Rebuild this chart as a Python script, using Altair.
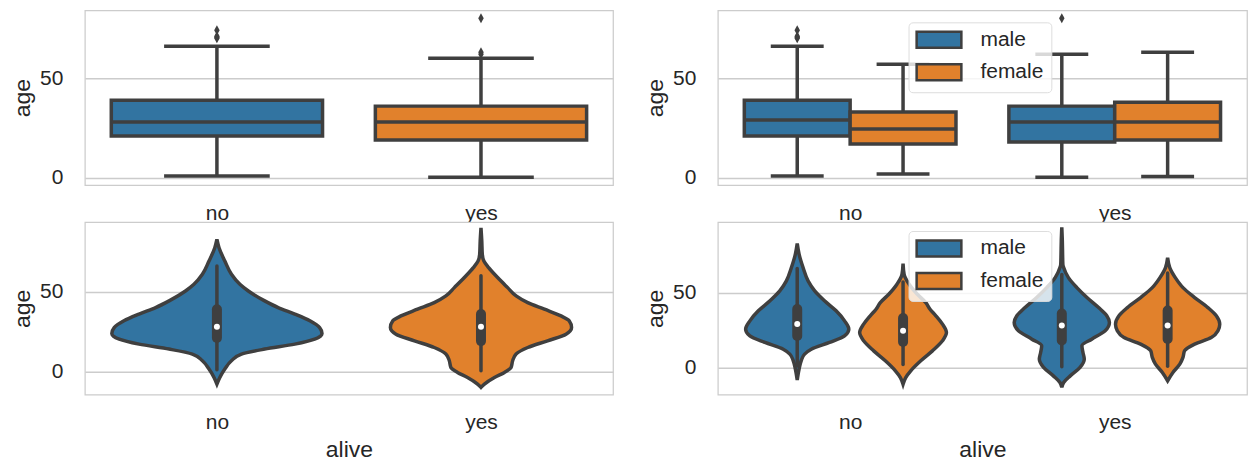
import altair as alt
import pandas as pd

FONT = "Liberation Sans"
TEXT = "#262626"
GRID = "#cccccc"
LINE = "#3f3f3f"

groups = ["no", "yes"]
sexes = ["male", "female"]
palette = ["#3274a1", "#e1812c"]

# ---- box statistics: age by alive
all_q1 = [21.0, 19.0]
all_med = [28.0, 28.0]
all_q3 = [39.0, 36.0]
all_lo = [1.0, 0.42]
all_hi = [66.0, 60.0]
out_all_group = ["no", "no", "no", "no", "yes", "yes", "yes"]
out_all_age = [70.0, 70.5, 71.0, 74.0, 62.0, 63.0, 80.0]

# ---- box statistics: age by alive and sex
sex_group = ["no", "no", "yes", "yes"]
sex_key = ["male", "female", "male", "female"]
sex_q1 = [21.0, 17.0, 18.0, 19.0]
sex_med = [29.0, 24.5, 28.0, 28.0]
sex_q3 = [39.0, 33.0, 36.0, 38.0]
sex_lo = [1.0, 2.0, 0.42, 0.75]
sex_hi = [66.0, 57.0, 62.0, 63.0]
out_sex_group = ["no", "no", "no", "no", "yes"]
out_sex_key = ["male", "male", "male", "male", "male"]
out_sex_age = [70.0, 70.5, 71.0, 74.0, 80.0]

# ---- violin outlines (age, half width)
vio_all_no_age = [82.7, 77.5, 69.2, 60.9, 54.6, 50.4, 44.2, 40.0, 35.9, 31.7, 27.5, 23.8, 20.2, 17.1, 14.0, 10.9, 6.7, 1.5, -3.75, -7.9]
vio_all_no_w = [0, 0.008, 0.030, 0.055, 0.087, 0.119, 0.181, 0.232, 0.295, 0.352, 0.389, 0.398, 0.370, 0.295, 0.181, 0.093, 0.055, 0.030, 0.011, 0]
vio_all_yes_age = [90.0, 81.7, 73.4, 69.2, 65.0, 58.8, 52.5, 47.3, 43.1, 39.0, 34.8, 31.7, 27.5, 23.3, 19.2, 15.0, 10.9, 6.7, 2.5, -0.6, -3.75, -7.9, -10.0]
vio_all_yes_w = [0, 0.003, 0.005, 0.011, 0.029, 0.063, 0.101, 0.133, 0.177, 0.240, 0.303, 0.334, 0.343, 0.322, 0.252, 0.177, 0.133, 0.120, 0.114, 0.089, 0.051, 0.013, 0]
vio_m_no_age = [82.7, 75.6, 66.7, 57.8, 51.1, 44.5, 37.8, 31.1, 25.6, 21.1, 16.7, 12.2, 8.9, 4.5, -1.1, -8.4]
vio_m_no_w = [0, 0.007, 0.022, 0.041, 0.066, 0.103, 0.147, 0.179, 0.195, 0.179, 0.122, 0.053, 0.028, 0.015, 0.007, 0]
vio_f_no_age = [69.3, 62.2, 55.6, 48.9, 43.3, 38.9, 34.5, 28.9, 23.3, 17.8, 11.1, 4.5, -2.2, -6.7, -11.1]
vio_f_no_w = [0, 0.004, 0.023, 0.054, 0.086, 0.102, 0.124, 0.149, 0.164, 0.149, 0.111, 0.067, 0.029, 0.010, 0]
vio_m_yes_age = [93.5, 84.4, 75.6, 68.9, 66.7, 60.0, 53.3, 46.7, 40.0, 34.5, 30.0, 24.5, 18.9, 14.5, 10.0, 5.6, 0.0, -5.6, -10.0, -13.3]
vio_m_yes_w = [0, 0.002, 0.003, 0.004, 0.007, 0.025, 0.057, 0.095, 0.139, 0.170, 0.180, 0.164, 0.113, 0.076, 0.080, 0.085, 0.069, 0.032, 0.007, 0]
vio_f_yes_age = [73.3, 66.7, 60.0, 53.3, 46.7, 40.0, 34.5, 28.9, 24.5, 20.0, 15.6, 11.1, 6.7, 2.2, -3.3, -8.9]
vio_f_yes_w = [0, 0.008, 0.029, 0.058, 0.102, 0.152, 0.184, 0.197, 0.190, 0.165, 0.102, 0.064, 0.058, 0.046, 0.020, 0]

# ---- layout constants
BOX_WIDTH = 0.8
HUE_SHIFT = BOX_WIDTH / 4
LW = 3.5


def center(group, key=None):
    c = float(groups.index(group))
    if key is None:
        return c
    return c + (-HUE_SHIFT if key == sexes[0] else HUE_SHIFT)


def box_df(grp, keys, q1, med, q3, lo, hi, hue):
    half = BOX_WIDTH / 4 if hue else BOX_WIDTH / 2
    rows = []
    for i in range(len(grp)):
        c = center(grp[i], keys[i] if hue else None)
        rows.append(dict(key=keys[i], pos=c, xl=c - half, xr=c + half,
                         cl=c - half / 2, cr=c + half / 2,
                         q1=q1[i], med=med[i], q3=q3[i], lo=lo[i], hi=hi[i]))
    return pd.DataFrame(rows)


def vio_df(items):
    rows = []
    for vid, grp, key, ages, ws, hue in items:
        c = center(grp, key if hue else None)
        pts = sorted(zip(ages, ws))
        for a, w in pts:
            rows.append(dict(vid=vid, key=key, age=a, vl=c - w, vr=c + w))
    return pd.DataFrame(rows)


label_expr = "[" + ",".join("'%s'" % g for g in groups) + "][datum.value]"


def x_enc(field, title):
    return alt.X(field + ":Q",
                 scale=alt.Scale(domain=[-0.5, 1.5], nice=False, zero=False),
                 axis=alt.Axis(values=[0, 1], labelExpr=label_expr, title=title,
                               grid=False, labelPadding=17, labelAngle=0,
                               titlePadding=6))


def y_enc(field, dom):
    return alt.Y(field + ":Q",
                 scale=alt.Scale(domain=dom, nice=False, zero=False),
                 axis=alt.Axis(values=[0, 50], title="age", grid=True,
                               labelPadding=22, titlePadding=5))


def color_enc(domain, legend_y):
    if legend_y is None:
        return alt.Color("key:N", scale=alt.Scale(domain=domain, range=palette), legend=None)
    return alt.Color("key:N", scale=alt.Scale(domain=domain, range=palette),
                     legend=alt.Legend(orient="none", legendX=191, legendY=legend_y,
                                       title=None,
                                       symbolType="M-2.8,-1H2.8V1H-2.8Z",
                                       symbolSize=256, symbolStrokeColor=LINE,
                                       symbolStrokeWidth=2.5, symbolOpacity=1,
                                       symbolOffset=13,
                                       labelFont=FONT, labelFontSize=21,
                                       labelColor=TEXT, labelOffset=31,
                                       fillColor="rgba(255,255,255,0.8)",
                                       strokeColor="#dddddd", cornerRadius=4,
                                       padding=7, rowPadding=5.5))


def box_panel(df, outs, dom, xtitle, domain, legend_y, w, h):
    base = alt.Chart(df)
    upper = base.mark_rule(stroke=LINE, strokeWidth=LW).encode(
        x=x_enc("pos", xtitle), y=y_enc("q3", dom), y2="hi:Q")
    lower = base.mark_rule(stroke=LINE, strokeWidth=LW).encode(
        x=x_enc("pos", xtitle), y=y_enc("lo", dom), y2="q1:Q")
    cap_hi = base.mark_rule(stroke=LINE, strokeWidth=LW).encode(
        x=x_enc("cl", xtitle), x2="cr:Q", y=y_enc("hi", dom))
    cap_lo = base.mark_rule(stroke=LINE, strokeWidth=LW).encode(
        x=x_enc("cl", xtitle), x2="cr:Q", y=y_enc("lo", dom))
    box = base.mark_rect(stroke=LINE, strokeWidth=LW, opacity=1).encode(
        x=x_enc("xl", xtitle), x2="xr:Q", y=y_enc("q1", dom), y2="q3:Q",
        color=color_enc(domain, legend_y))
    med = base.mark_rule(stroke=LINE, strokeWidth=LW).encode(
        x=x_enc("xl", xtitle), x2="xr:Q", y=y_enc("med", dom))
    fl = alt.Chart(outs).mark_point(shape="M0,-1L0.55,0L0,1L-0.55,0Z", size=100,
                                    filled=True, color=LINE, opacity=1).encode(
        x=x_enc("pos", xtitle), y=y_enc("age", dom))
    return alt.layer(upper, lower, cap_hi, cap_lo, box, med, fl).properties(width=w, height=h)


def violin_panel(vdf, bdf, dom, xtitle, domain, legend_y, w, h):
    area = alt.Chart(vdf).mark_area(orient="horizontal", interpolate="monotone",
                                    stroke=LINE, strokeWidth=LW, opacity=1).encode(
        x=x_enc("vl", xtitle), x2="vr:Q", y=y_enc("age", dom),
        color=color_enc(domain, legend_y), detail="vid:N")
    base = alt.Chart(bdf)
    whisk = base.mark_rule(stroke=LINE, strokeWidth=3.5, strokeCap="round").encode(
        x=x_enc("pos", xtitle), y=y_enc("lo", dom), y2="hi:Q")
    iqr = base.mark_rule(stroke=LINE, strokeWidth=10, strokeCap="round").encode(
        x=x_enc("pos", xtitle), y=y_enc("q1", dom), y2="q3:Q")
    dot = base.mark_circle(color="white", size=36, opacity=1).encode(
        x=x_enc("pos", xtitle), y=y_enc("med", dom))
    return alt.layer(area, whisk, iqr, dot).properties(width=w, height=h)


box_all = box_df(groups, groups, all_q1, all_med, all_q3, all_lo, all_hi, False)
box_sex = box_df(sex_group, sex_key, sex_q1, sex_med, sex_q3, sex_lo, sex_hi, True)
out_all = pd.DataFrame(dict(pos=[center(g) for g in out_all_group], age=out_all_age))
out_sex = pd.DataFrame(dict(pos=[center(g, k) for g, k in zip(out_sex_group, out_sex_key)],
                            age=out_sex_age))

vio_all = vio_df([
    ("a_no", "no", "no", vio_all_no_age, vio_all_no_w, False),
    ("a_yes", "yes", "yes", vio_all_yes_age, vio_all_yes_w, False),
])
vio_sex = vio_df([
    ("m_no", "no", "male", vio_m_no_age, vio_m_no_w, True),
    ("f_no", "no", "female", vio_f_no_age, vio_f_no_w, True),
    ("m_yes", "yes", "male", vio_m_yes_age, vio_m_yes_w, True),
    ("f_yes", "yes", "female", vio_f_yes_age, vio_f_yes_w, True),
])

TOP_DOM = [-3.56, 83.98]
BL_DOM = [-14.6, 93.6]
BR_DOM = [-18.2, 97.1]

tl = box_panel(box_all, out_all, TOP_DOM, None, groups, None, 529, 175)
tr = box_panel(box_sex, out_sex, TOP_DOM, None, sexes, 12, 530, 175)
bl = violin_panel(vio_all, box_all, BL_DOM, "alive", groups, None, 529, 173)
br = violin_panel(vio_sex, box_sex, BR_DOM, "alive", sexes, 9, 530, 173)

chart = alt.concat(tl, tr, bl, br, columns=2, spacing={"row": 37, "column": 105},
                   bounds="flush").resolve_scale(
    x="independent", y="independent", color="independent"
).resolve_legend(color="independent").properties(
    padding={"left": 3, "right": 0, "top": 1, "bottom": 0},
    background="white"
).configure_view(
    stroke=GRID, strokeWidth=1.25, fill="white"
).configure_axis(
    labelFont=FONT, labelFontSize=21, labelColor=TEXT,
    titleFont=FONT, titleFontSize=23, titleFontWeight="normal", titleColor=TEXT,
    ticks=False, domain=False, gridColor=GRID, gridWidth=1.5
)

chart.save("out.html", embed_options={"renderer": "svg", "actions": False})
